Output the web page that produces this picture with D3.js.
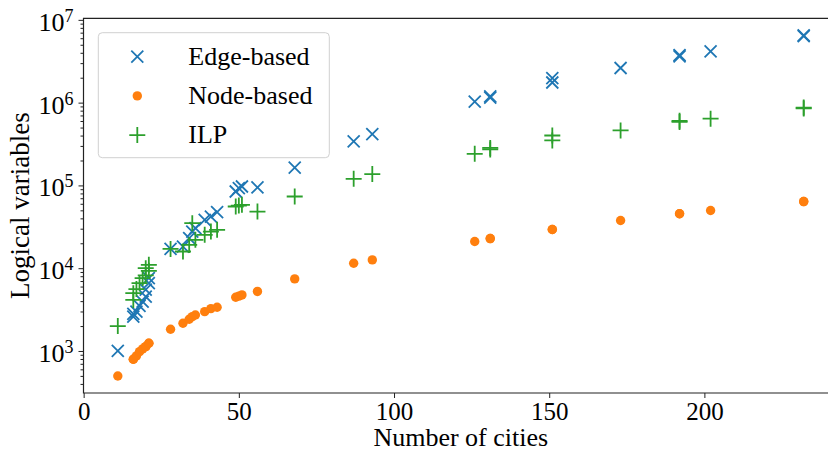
<!DOCTYPE html>
<html lang="en">
  <head>
    <meta charset="UTF-8" />
    <title>logical variables vs number of cities</title>
    <style>
      body { margin: 0; background: #fff; }
      text { font-family: "Liberation Serif", "DejaVu Serif", serif; fill: #000; }
    </style>
  </head>
  <body>
    <svg width="828" height="452" xmlns="http://www.w3.org/2000/svg"></svg>
  </body>
  <script src="https://cdn.jsdelivr.net/npm/d3@7/dist/d3.min.js"></script>
  <script>
    // one entry per instance
    const cities = [11, 16, 16, 17, 18, 19, 20, 20, 21, 21,
      28, 32, 34, 35, 36, 39, 41, 43, 49, 50, 51, 56, 68, 87, 93,
      126, 131, 131, 151, 151, 173, 192, 192, 202, 232, 232];
    const edgeBased = [1000, 2600, 2800, 2990, 3500, 3950, 4540, 5500, 6600, 7600,
      17100, 18200, 23100, 27700, 30500, 38400, 42100, 47600, 84400, 92700, 97000, 94400, 164000, 340000, 417000,
      1026000, 1150000, 1190000, 1980000, 1750000, 2620000, 3620000, 3760000, 4160000, 6350000, 6500000];
    const nodeBased = [499, 794, 794, 871, 982, 1060, 1128, 1128, 1240, 1240,
      1829, 2162, 2418, 2600, 2723, 2985, 3245, 3374, 4457, 4600, 4753, 5237, 7428, 11490, 12600,
      20990, 22800, 22800, 29300, 29300, 37650, 45400, 45400, 49700, 63800, 63800];
    const ilp = [2000, 4990, 4140, 5600, 6590, 7600, 10000, 8200, 10970, 9300,
      17100, 15900, 19100, 35000, 22000, 25300, 27700, 29050, 55600, 57000, 58200, 48300, 73500, 120000, 137000,
      241000, 272000, 284000, 401000, 349000, 461000, 585000, 602000, 640000, 850000, 872000];

    const seriesNames = ["Edge-based", "Node-based", "ILP"];
    const xTicks = [0, 50, 100, 150, 200];

    const svg = d3.select("svg");
    const mLeft = 83.5, mRight = 838, mTop = 18.3, mBottom = 393;
    const colors = { "Edge-based": "#1f77b4", "Node-based": "#ff7f0e", "ILP": "#2ca02c" };

    // matplotlib-like 5% margins
    const xExt = d3.extent(cities);
    const xPad = (xExt[1] - xExt[0]) * 0.05;
    const x = d3.scaleLinear().domain([xExt[0] - xPad, xExt[1] + xPad]).range([mLeft, mRight]);

    const allY = edgeBased.concat(nodeBased, ilp).map(v => Math.log10(v));
    const yExt = d3.extent(allY);
    const yPad = (yExt[1] - yExt[0]) * 0.05;
    const y = d3.scaleLog()
      .domain([Math.pow(10, yExt[0] - yPad), Math.pow(10, yExt[1] + yPad)])
      .range([mBottom, mTop]);

    const series = [
      { name: "Edge-based", values: edgeBased },
      { name: "Node-based", values: nodeBased },
      { name: "ILP", values: ilp }
    ];

    function marker(g, name) {
      const c = colors[name];
      if (name === "Edge-based") {
        const s = 6;
        g.append("path").attr("d", `M${-s},${-s}L${s},${s}M${-s},${s}L${s},${-s}`)
          .attr("stroke", c).attr("stroke-width", 1.8).attr("fill", "none");
      } else if (name === "Node-based") {
        g.append("circle").attr("r", 4.7).attr("fill", c);
      } else {
        const s = 8;
        g.append("path").attr("d", `M${-s},0L${s},0M0,${-s}L0,${s}`)
          .attr("stroke", c).attr("stroke-width", 1.8).attr("fill", "none");
      }
    }

    // points
    const pts = svg.append("g");
    series.forEach(s => {
      pts.selectAll(null)
        .data(s.values.map((v, i) => ({ n: cities[i], v })))
        .enter()
        .append("g")
        .attr("transform", d => `translate(${x(d.n)},${y(d.v)})`)
        .each(function () { marker(d3.select(this), s.name); });
    });

    // axes
    const xAxis = svg.append("g")
      .attr("transform", `translate(0,${mBottom})`)
      .call(d3.axisBottom(x).tickValues(xTicks).tickSize(5).tickPadding(4.5).tickSizeOuter(0));
    xAxis.select(".domain").remove();
    xAxis.selectAll("text").attr("font-size", 25).attr("font-family", "Liberation Serif");

    const [y0, y1] = y.domain();
    const majors = [], minors = [];
    for (let k = Math.floor(Math.log10(y0)); k <= Math.ceil(Math.log10(y1)); k++) {
      for (let m = 1; m < 10; m++) {
        const v = m * Math.pow(10, k);
        if (v < y0 || v > y1) continue;
        (m === 1 ? majors : minors).push(v);
      }
    }

    const yMinor = svg.append("g")
      .attr("transform", `translate(${mLeft},0)`)
      .call(d3.axisLeft(y).tickValues(minors).tickSize(3).tickFormat(""));
    yMinor.select(".domain").remove();

    const yAxis = svg.append("g")
      .attr("transform", `translate(${mLeft},0)`)
      .call(d3.axisLeft(y).tickValues(majors).tickSize(5).tickPadding(5).tickFormat(""));
    yAxis.select(".domain").remove();
    yAxis.selectAll(".tick text").each(function (d) {
      const t = d3.select(this).attr("font-size", 26).attr("dy", "0.4em").attr("font-family", "Liberation Serif");
      t.append("tspan").text("10");
      t.append("tspan").attr("font-size", 18).attr("dy", -9).text(Math.round(Math.log10(d)));
    });
    svg.selectAll(".tick line").attr("stroke", "#222").attr("stroke-width", 1);

    // spines (right one falls outside the picture)
    svg.append("path")
      .attr("d", `M${mRight},${mTop}H${mLeft}V${mBottom}H${mRight}`)
      .attr("fill", "none").attr("stroke", "#222").attr("stroke-width", 1.2);

    // labels
    svg.append("text")
      .attr("x", (mLeft + mRight) / 2).attr("y", 446)
      .attr("text-anchor", "middle").attr("font-size", 26)
      .text("Number of cities");
    svg.append("text")
      .attr("transform", `translate(29,${(mTop + mBottom) / 2}) rotate(-90)`)
      .attr("text-anchor", "middle").attr("font-size", 27)
      .text("Logical variables");

    // legend
    const lg = svg.append("g");
    lg.append("rect")
      .attr("x", 98.3).attr("y", 32.7).attr("width", 231).attr("height", 125).attr("rx", 4)
      .attr("fill", "#fff").attr("fill-opacity", 0.8).attr("stroke", "#d0d0d0").attr("stroke-width", 1);
    seriesNames.forEach((name, i) => {
      const cy = 56.7 + i * 39.2;
      marker(lg.append("g").attr("transform", `translate(137.3,${cy})`), name);
      lg.append("text").attr("x", 188.3).attr("y", cy + 8).attr("font-size", 26).text(name);
    });
  </script>
</html>
